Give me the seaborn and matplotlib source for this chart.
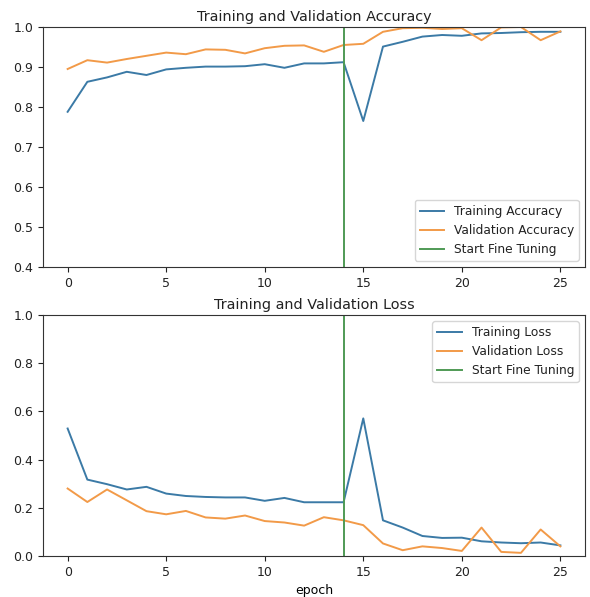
import numpy as np
import pandas as pd
import matplotlib
matplotlib.use("Agg")
import matplotlib.pyplot as plt
import seaborn as sns

# Training history (initial training epochs 0-14, fine tuning from epoch 14)
acc = [0.788, 0.863, 0.874, 0.888, 0.880, 0.894, 0.898, 0.901, 0.901, 0.902,
       0.907, 0.898, 0.909, 0.909, 0.912, 0.765, 0.951, 0.963, 0.976, 0.980,
       0.978, 0.984, 0.985, 0.987, 0.988, 0.988]
val_acc = [0.895, 0.917, 0.911, 0.920, 0.928, 0.936, 0.932, 0.944, 0.943, 0.934,
           0.947, 0.953, 0.954, 0.938, 0.955, 0.958, 0.988, 0.997, 0.998, 0.995,
           0.997, 0.967, 0.999, 1.000, 0.967, 0.989]
loss = [0.529, 0.317, 0.298, 0.276, 0.287, 0.259, 0.249, 0.245, 0.243, 0.243,
        0.229, 0.241, 0.223, 0.223, 0.223, 0.571, 0.148, 0.118, 0.083, 0.075,
        0.076, 0.061, 0.056, 0.053, 0.056, 0.044]
val_loss = [0.280, 0.224, 0.276, 0.231, 0.186, 0.173, 0.187, 0.160, 0.155, 0.168,
            0.145, 0.139, 0.126, 0.161, 0.148, 0.128, 0.052, 0.024, 0.040, 0.033,
            0.021, 0.118, 0.017, 0.013, 0.110, 0.040]
initial_epochs = 14

epochs = np.arange(len(acc))

plt.rcParams.update({
    "font.family": ["DejaVu Sans"],
    "font.size": 9,
    "axes.titlesize": 10.4,
    "axes.labelsize": 9,
    "xtick.labelsize": 9,
    "ytick.labelsize": 9,
    "legend.fontsize": 8.8,
    "text.color": "#222222",
    "xtick.color": "#222222",
    "ytick.color": "#222222",
    "axes.edgecolor": "#333333",
})

fig = plt.figure(figsize=(5.90, 5.97), dpi=100)
ax1 = fig.add_axes([43 / 590, 1 - 267 / 597, 542 / 590, 240 / 597])
ax2 = fig.add_axes([43 / 590, 1 - 556 / 597, 542 / 590, 241 / 597])

blue, orange, green = "#3b7aa6", "#f29a48", "#4f9a55"
lw = 1.4

sns.lineplot(x=epochs, y=acc, ax=ax1, color=blue, lw=lw, label="Training Accuracy")
sns.lineplot(x=epochs, y=val_acc, ax=ax1, color=orange, lw=lw, label="Validation Accuracy")
ax1.set_ylim([0.4, 1])
ax1.axvline(initial_epochs, color=green, lw=lw, label="Start Fine Tuning")
ax1.legend(loc="lower right")
ax1.set_title("Training and Validation Accuracy", pad=4)

sns.lineplot(x=epochs, y=loss, ax=ax2, color=blue, lw=lw, label="Training Loss")
sns.lineplot(x=epochs, y=val_loss, ax=ax2, color=orange, lw=lw, label="Validation Loss")
ax2.set_ylim([0, 1.0])
ax2.axvline(initial_epochs, color=green, lw=lw, label="Start Fine Tuning")
ax2.legend(loc="upper right")
ax2.set_title("Training and Validation Loss", pad=4)
ax2.set_xlabel("epoch")

for ax in (ax1, ax2):
    ax.set_xlim(-1.25, 26.25)
    ax.set_xticks([0, 5, 10, 15, 20, 25])
    ax.set_ylabel("")

fig.savefig("out.png", dpi=100)
